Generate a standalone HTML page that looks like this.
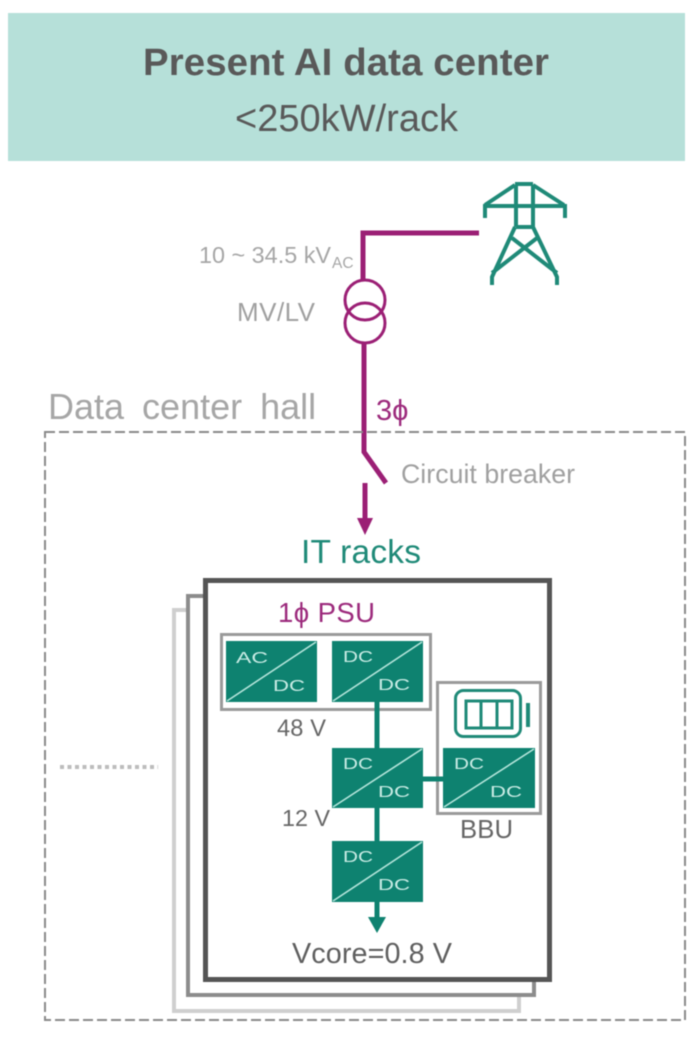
<!DOCTYPE html>
<html>
<head>
<meta charset="utf-8">
<style>
html,body{margin:0;padding:0;background:#fff;}
svg{display:block;filter:blur(0.5px);}
text{font-family:"Liberation Sans",sans-serif;}
.dc{font-size:16px;fill:#c9ece5;}
</style>
</head>
<body>
<svg width="691" height="1038" viewBox="0 0 691 1038" xmlns="http://www.w3.org/2000/svg">
<rect x="0" y="0" width="691" height="1038" fill="#fff"/>
<rect x="8" y="13" width="677" height="148" fill="#b6e0d9"/>
<text x="143" y="75" font-size="38.4" font-weight="bold" fill="#595959" textLength="406" lengthAdjust="spacing">Present AI data center</text>
<text x="235" y="131" font-size="38" fill="#595959" textLength="223" lengthAdjust="spacing">&lt;250kW/rack</text>

<!-- tower -->
<g fill="none" stroke="#1f8a78" stroke-width="4">
<path d="M515 184H533M515 185L485 205M533 185L564 205M485 218V206H565V218"/>
<path d="M516 185V227M533 185V227M516 227H533"/>
<path d="M515 227L492 277V285M533 227L557 277V285M512 238L557 273M537 238L492 273"/>
</g>

<!-- MV feed -->
<g fill="none" stroke="#9b1f75">
<path d="M479 233H363V280" stroke-width="5"/>
<circle cx="365" cy="300" r="20" stroke-width="3"/>
<circle cx="365" cy="323" r="20" stroke-width="3"/>
<path d="M364 344V452L386 483" stroke-width="5"/>
<path d="M365 483V520" stroke-width="5"/>
</g>
<path d="M357 518H373L365 535Z" fill="#9b1f75"/>

<text x="199" y="263" font-size="23.4" fill="#a6a6a6" textLength="132" lengthAdjust="spacing">10 ~ 34.5 kV</text>
<text x="332" y="268" font-size="15.5" fill="#a6a6a6">AC</text>
<text x="237" y="321" font-size="26" fill="#a0a0a0" textLength="78" lengthAdjust="spacing">MV/LV</text>
<text x="48" y="419" font-size="36" fill="#a6a6a6" word-spacing="8">Data center hall</text>
<text x="376" y="420" font-size="29" fill="#9c2a7c">3ϕ</text>
<text x="401" y="483" font-size="26.7" fill="#a0a0a0" textLength="174" lengthAdjust="spacing">Circuit breaker</text>
<text x="301" y="563" font-size="33.5" fill="#1f8a78" textLength="120" lengthAdjust="spacing">IT racks</text>

<!-- hall -->
<rect x="45" y="432" width="640" height="588" fill="none" stroke="#8a8a8a" stroke-width="2" stroke-dasharray="10 4"/>
<path d="M60 767H158" stroke="#bdbdbd" stroke-width="4" stroke-dasharray="4 3.5" fill="none"/>

<!-- racks -->
<rect x="174" y="610" width="345" height="401" fill="#fff" stroke="#cfcfcf" stroke-width="4"/>
<rect x="188" y="596" width="346" height="399" fill="#fff" stroke="#8c8c8c" stroke-width="4"/>
<rect x="205.5" y="580.5" width="344" height="399" fill="#fff" stroke="#555" stroke-width="5"/>

<text x="278" y="622" font-size="27.5" fill="#9c2a7c" textLength="97" lengthAdjust="spacing">1ϕ PSU</text>

<rect x="221.5" y="634.5" width="209" height="75" fill="none" stroke="#9a9a9a" stroke-width="3"/>
<rect x="437.5" y="682.5" width="103" height="131" fill="none" stroke="#9a9a9a" stroke-width="3"/>

<!-- connectors -->
<g stroke="#0e8270" stroke-width="5" fill="none">
<path d="M377 702V748M377 808V841M377 902V920M423 779H443"/>
</g>
<path d="M368 917H386L377 933Z" fill="#0e8270"/>

<!-- converters -->
<g fill="#0e8270">
<rect x="226" y="641" width="91" height="61"/>
<rect x="332" y="641" width="91" height="61"/>
<rect x="332" y="748" width="91" height="60"/>
<rect x="443" y="748" width="92" height="60"/>
<rect x="332" y="841" width="91" height="61"/>
</g>
<g stroke="#b6e6dc" stroke-width="1.6" fill="none">
<path d="M227 701L316 642M333 701L422 642M333 807L422 749M444 807L534 749M333 901L422 842"/>
</g>
<text class="dc" x="236" y="663" textLength="32" lengthAdjust="spacingAndGlyphs">AC</text>
<text class="dc" x="273" y="691" textLength="32" lengthAdjust="spacingAndGlyphs">DC</text>
<text class="dc" x="343" y="662" textLength="30" lengthAdjust="spacingAndGlyphs">DC</text>
<text class="dc" x="378" y="690" textLength="32" lengthAdjust="spacingAndGlyphs">DC</text>
<text class="dc" x="343" y="769" textLength="30" lengthAdjust="spacingAndGlyphs">DC</text>
<text class="dc" x="378" y="797" textLength="32" lengthAdjust="spacingAndGlyphs">DC</text>
<text class="dc" x="454" y="769" textLength="30" lengthAdjust="spacingAndGlyphs">DC</text>
<text class="dc" x="490" y="797" textLength="32" lengthAdjust="spacingAndGlyphs">DC</text>
<text class="dc" x="343" y="862" textLength="30" lengthAdjust="spacingAndGlyphs">DC</text>
<text class="dc" x="378" y="890" textLength="32" lengthAdjust="spacingAndGlyphs">DC</text>

<!-- battery -->
<g fill="none" stroke="#1f8a78">
<rect x="455.5" y="690.5" width="65" height="46" rx="8" stroke-width="3"/>
<rect x="466" y="701" width="46" height="27" stroke-width="3"/>
<path d="M481 701V728M497 701V728" stroke-width="3"/>
<path d="M528 703V727" stroke-width="4"/>
</g>

<text x="277" y="736" font-size="23.6" fill="#666" textLength="49" lengthAdjust="spacing">48 V</text>
<text x="282" y="826" font-size="23.3" fill="#666" textLength="48" lengthAdjust="spacing">12 V</text>
<text x="460" y="838" font-size="25.7" fill="#666" textLength="53" lengthAdjust="spacing">BBU</text>
<text x="292" y="963" font-size="28.8" fill="#5f5f5f" textLength="160" lengthAdjust="spacing">Vcore=0.8 V</text>
</svg>
</body>
</html>
